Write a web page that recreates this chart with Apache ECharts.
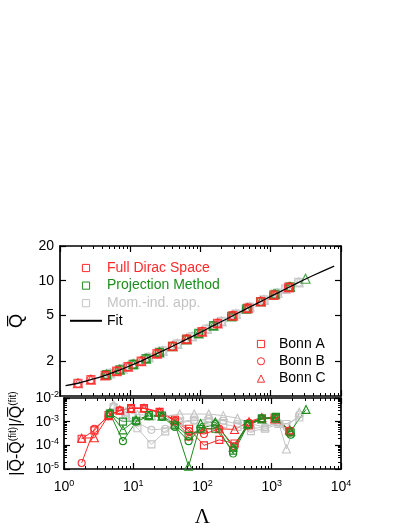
<!DOCTYPE html>
<html>
<head>
<meta charset="utf-8">
<script src="https://cdn.jsdelivr.net/npm/echarts@6/dist/echarts.min.js"></script>
<style>
  html, body { margin: 0; padding: 0; background: #fff; }
  #main { width: 409px; height: 529px; }
</style>
</head>
<body>
<div id="main"></div>
<script>
// Lambda grids
var lamRed = [1.8, 2.75, 4.4, 6.4, 9.3, 14.3, 24, 40, 64, 105, 175, 290, 470, 720, 1100, 1800];
var lamGreen = [4.6, 7.1, 11, 16.8, 26, 40, 63, 94, 153, 277, 450, 720, 1150, 1880];
var lamGreenC = [4.6, 7.1, 11, 16.8, 26, 40, 63, 94, 153, 277, 450, 720, 1150, 1880, 3125];
var lamGray = [5.2, 7.8, 11.5, 18.3, 29, 47, 76, 123, 200, 320, 500, 800, 1250, 1630, 2500];

// Q-bar values (top panel)
var qRed = [1.29, 1.385, 1.51, 1.645, 1.80, 2.01, 2.33, 2.70, 3.11, 3.62, 4.26, 4.98, 5.79, 6.60, 7.52, 8.74];
var qGreen = [1.53, 1.69, 1.88, 2.11, 2.39, 2.70, 3.10, 3.49, 4.08, 4.91, 5.71, 6.60, 7.63, 8.85];
var qGreenC = [1.53, 1.69, 1.88, 2.11, 2.39, 2.70, 3.10, 3.49, 4.08, 4.91, 5.71, 6.60, 7.63, 8.85, 10.4];
var qGray = [1.57, 1.73, 1.90, 2.16, 2.46, 2.83, 3.28, 3.81, 4.43, 5.14, 5.90, 6.82, 7.82, 8.48, 9.66];

// Fit curve
var lamFit = [1.2, 1.8, 2.7, 4, 6, 10, 15, 25, 40, 60, 100, 160, 250, 400, 650, 1000, 1600, 2500, 4000, 8000];
var qFit = [1.23, 1.29, 1.38, 1.48, 1.62, 1.83, 2.04, 2.36, 2.70, 3.05, 3.56, 4.14, 4.75, 5.51, 6.40, 7.31, 8.43, 9.66, 11.1, 13.4];

// relative deviations (bottom panel)
var devRedA = [1.9e-4, 4.3e-4, 1.9e-3, 2.9e-3, 3.8e-3, 3.8e-3, 2.6e-3, 1.2e-3, 5e-4, 1.0e-4, 1.7e-4, 1.2e-4, 7e-4, 1.3e-3, 1.5e-3, 4e-4];
var devRedB = [1.8e-5, 5e-4, 1.7e-3, 3.0e-3, 3.7e-3, 3.6e-3, 2.4e-3, 1.1e-3, 4e-4, 3e-4, 5e-4, 9e-5, 9e-4, 1.4e-3, 1.4e-3, 3.5e-4];
var devRedC = [2.0e-4, 2.1e-4, 1.8e-3, 3.1e-3, 3.6e-3, 3.7e-3, 2.5e-3, 1.1e-3, 2.5e-4, 5e-4, 5e-4, 4.7e-4, 1.0e-3, 1.5e-3, 1.3e-3, 4.5e-4];
var devGreenA = [2.2e-3, 1.0e-3, 1.1e-3, 1.9e-3, 1.8e-3, 7e-4, 2.5e-4, 5e-4, 5e-4, 6e-5, 8e-4, 1.4e-3, 1.6e-3, 3.5e-4];
var devGreenB = [2.3e-3, 1.5e-4, 1.0e-3, 1.7e-3, 1.6e-3, 6e-4, 1.5e-4, 5e-4, 8e-4, 4.5e-5, 7e-4, 1.3e-3, 1.5e-3, 2.8e-4];
var devGreenC = [2.4e-3, 4.5e-4, 1.2e-3, 1.8e-3, 1.7e-3, 8e-4, 1.3e-5, 8.3e-4, 9.7e-4, 8.3e-5, 8e-4, 1.3e-3, 1.4e-3, 4e-4, 3.3e-3];
var devGrayA = [4.0e-3, 1.5e-3, 5.3e-4, 1.1e-4, 3.9e-4, 1.0e-3, 1.2e-3, 1.0e-3, 8e-4, 6e-4, 4e-4, 5e-4, 8e-4, 8e-4, 1.5e-3];
var devGrayB = [4.5e-3, 1.8e-3, 9e-4, 4.5e-4, 5e-4, 9e-4, 1.1e-3, 1.3e-3, 1.1e-3, 8e-4, 5e-4, 6e-4, 9e-4, 6e-4, 2.0e-3];
var devGrayC = [5.2e-3, 2.6e-3, 2.0e-3, 1.8e-3, 1.7e-3, 2.1e-3, 2.1e-3, 2.1e-3, 1.8e-3, 1.4e-3, 8e-4, 6e-4, 1.0e-3, 7e-5, 2.5e-3];

var RED = '#ff2a2a', GREEN = '#1e8c1e', GRAY = '#c4c4c4';
var CLEAR = 'rgba(255,255,255,0)';

function pairs(xs, ys) {
  return xs.map(function (x, i) { return [x, ys[i]]; });
}

var myChart = echarts.init(document.getElementById('main'));

var supRich = {
  b: { fontSize: 14, fontFamily: 'Liberation Sans', color: '#000' },
  s: { fontSize: 9, fontFamily: 'Liberation Sans', color: '#000', verticalAlign: 'top', padding: [0, 0, 7, 0] }
};
function powLabel(v) {
  var e = Math.round(Math.log10(v));
  return '{b|10}{s|' + e + '}';
}

var frame = { show: true, onZero: false, lineStyle: { color: '#000', width: 1.7 } };
var tickIn = { show: true, inside: true, length: 6, lineStyle: { color: '#000', width: 1.2 } };
var minorIn = { show: true, splitNumber: 9, length: 3, lineStyle: { color: '#000', width: 1 } };

function xAx(grid, pos, labels) {
  return {
    type: 'log', logBase: 10, gridIndex: grid, position: pos, min: 1, max: 10000,
    axisLine: frame, axisTick: tickIn, minorTick: minorIn, splitLine: { show: false },
    axisLabel: labels ? { show: true, margin: 10, formatter: powLabel, rich: supRich } : { show: false },
    name: labels ? '\u039B' : '', nameLocation: 'middle', nameGap: 38,
    nameTextStyle: { fontFamily: 'Liberation Serif', fontSize: 21, color: '#000' }
  };
}

var yTopVals = [2, 5, 10, 20];
function yTop(pos, labels) {
  return {
    type: 'log', logBase: 10, gridIndex: 0, position: pos, min: 1, max: 20,
    axisLine: frame,
    axisTick: { show: true, inside: true, length: 6, customValues: yTopVals, lineStyle: { color: '#000', width: 1.2 } },
    splitLine: { show: false },
    axisLabel: labels ? { show: true, customValues: yTopVals, margin: 6, fontSize: 14, fontFamily: 'Liberation Sans', color: '#000' } : { show: false },
    name: labels ? 'Q\u0305' : '', nameLocation: 'middle', nameGap: 34, nameRotate: 90,
    nameTextStyle: { fontFamily: 'Liberation Sans', fontSize: 18, color: '#000' }
  };
}
function yBot(pos, labels) {
  return {
    type: 'log', logBase: 10, gridIndex: 1, position: pos, min: 1e-5, max: 1e-2,
    axisLine: frame, axisTick: tickIn, minorTick: minorIn, splitLine: { show: false },
    axisLabel: labels ? { show: true, margin: 5, formatter: powLabel, rich: supRich } : { show: false },
    name: labels ? '|Q\u0305-Q\u0305{s|(fit)}|/Q\u0305{s|(fit)}' : '', nameLocation: 'middle', nameGap: 37, nameRotate: 90,
    nameTextStyle: {
      fontFamily: 'Liberation Sans', fontSize: 16, color: '#000',
      rich: { s: { fontSize: 10, fontFamily: 'Liberation Sans', color: '#000', verticalAlign: 'top', padding: [0, 0, 7, 0] } }
    }
  };
}

function topSeries(lam, q, sym, color) {
  return {
    type: 'scatter', xAxisIndex: 0, yAxisIndex: 0,
    symbol: sym, symbolSize: sym === 'triangle' ? 9 : 8,
    itemStyle: { color: CLEAR, borderColor: color, borderWidth: 1.2 },
    data: pairs(lam, q), z: 3
  };
}
function botSeries(lam, dev, sym, color) {
  return {
    type: 'line', xAxisIndex: 2, yAxisIndex: 2,
    symbol: sym, symbolSize: sym === 'triangle' ? 8 : 7, showSymbol: true,
    lineStyle: { color: color, width: 1 },
    itemStyle: { color: CLEAR, borderColor: color, borderWidth: 1.1 },
    data: pairs(lam, dev), z: 3
  };
}

var series = [];
// top panel: gray, green, red, then fit on top
series.push(topSeries(lamGray, qGray, 'rect', GRAY));
series.push(topSeries(lamGray, qGray, 'circle', GRAY));
series.push(topSeries(lamGray, qGray, 'triangle', GRAY));
series.push(topSeries(lamGreen, qGreen, 'rect', GREEN));
series.push(topSeries(lamGreen, qGreen, 'circle', GREEN));
series.push(topSeries(lamGreenC, qGreenC, 'triangle', GREEN));
series.push(topSeries(lamRed, qRed, 'rect', RED));
series.push(topSeries(lamRed, qRed, 'circle', RED));
series.push(topSeries(lamRed, qRed, 'triangle', RED));
series.push({
  name: 'Fit', type: 'line', xAxisIndex: 0, yAxisIndex: 0, smooth: true, symbol: 'none',
  lineStyle: { color: '#000', width: 1.3 }, itemStyle: { color: CLEAR, borderColor: CLEAR },
  data: pairs(lamFit, qFit), z: 5
});
// bottom panel
series.push(botSeries(lamGray, devGrayA, 'rect', GRAY));
series.push(botSeries(lamGray, devGrayB, 'circle', GRAY));
series.push(botSeries(lamGray, devGrayC, 'triangle', GRAY));
series.push(botSeries(lamRed, devRedA, 'rect', RED));
series.push(botSeries(lamRed, devRedB, 'circle', RED));
series.push(botSeries(lamRed, devRedC, 'triangle', RED));
series.push(botSeries(lamGreen, devGreenA, 'rect', GREEN));
series.push(botSeries(lamGreen, devGreenB, 'circle', GREEN));
series.push(botSeries(lamGreenC, devGreenC, 'triangle', GREEN));

// legend-only entries (no data)
function legendDummy(name, sym, color) {
  return {
    name: name, type: 'line', xAxisIndex: 0, yAxisIndex: 0, symbol: sym, symbolSize: 7,
    lineStyle: { opacity: 0, width: 0 },
    itemStyle: { color: CLEAR, borderColor: color, borderWidth: 0.9 }, data: []
  };
}
series.push(legendDummy('Full Dirac Space', 'rect', RED));
series.push(legendDummy('Projection Method', 'rect', GREEN));
series.push(legendDummy('Mom.-ind. app.', 'rect', GRAY));
series.push(legendDummy('Bonn A', 'rect', RED));
series.push(legendDummy('Bonn B', 'circle', RED));
series.push(legendDummy('Bonn C', 'triangle', RED));

option = {
  backgroundColor: '#fff',
  animation: false,
  textStyle: { fontFamily: 'Liberation Sans' },
  grid: [
    { left: 56, top: 246, width: 285, height: 150 },
    { left: 56, top: 398, width: 285, height: 75 }
  ],
  xAxis: [xAx(0, 'bottom', false), xAx(0, 'top', false), xAx(1, 'bottom', true), xAx(1, 'top', false)],
  yAxis: [yTop('left', true), yTop('right', false), yBot('left', true), yBot('right', false)],
  legend: [
    {
      left: 64, top: 256, orient: 'vertical', itemWidth: 32, itemHeight: 9, itemGap: 3.6,
      selectedMode: false,
      itemStyle: { borderWidth: 1 },
      textStyle: { fontSize: 14, fontFamily: 'Liberation Sans', lineHeight: 14 },
      data: [
        { name: 'Full Dirac Space', textStyle: { color: RED } },
        { name: 'Projection Method', textStyle: { color: GREEN } },
        { name: 'Mom.-ind. app.', textStyle: { color: GRAY } },
        { name: 'Fit', textStyle: { color: '#000' } }
      ]
    },
    {
      left: 243, top: 332, orient: 'vertical', itemWidth: 26, itemHeight: 9, itemGap: 3.3,
      selectedMode: false,
      itemStyle: { borderWidth: 1 },
      textStyle: { fontSize: 14, fontFamily: 'Liberation Sans', color: '#000', lineHeight: 14 },
      data: ['Bonn A', 'Bonn B', 'Bonn C']
    }
  ],
  series: series
};

if (option && typeof option === 'object') {
  myChart.setOption(option, true);
}
</script>
</body>
</html>
